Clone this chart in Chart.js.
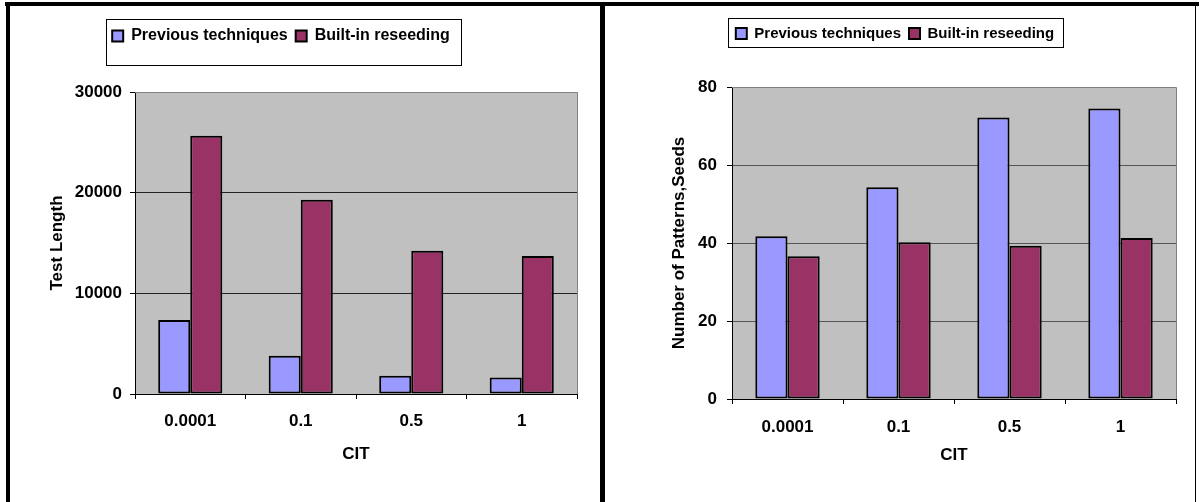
<!DOCTYPE html>
<html>
<head>
<meta charset="utf-8">
<script src="https://cdn.jsdelivr.net/npm/chart.js@4.4.1/dist/chart.umd.min.js"></script>
<style>
  html, body { margin: 0; padding: 0; background: #fff; }
  body { width: 1199px; height: 502px; position: relative; overflow: hidden; }
  .rule { position: absolute; background: #000; }
  canvas { position: absolute; }
</style>
</head>
<body>
<div class="rule" style="left:5px;top:2px;width:1194px;height:4px"></div>
<div class="rule" style="left:6px;top:2px;width:4px;height:500px"></div>
<div class="rule" style="left:600px;top:2px;width:5px;height:500px"></div>
<div class="rule" style="left:1195px;top:2px;width:1px;height:500px"></div>
<canvas id="lengthChart" width="590" height="496" style="left:10px;top:6px"></canvas>
<canvas id="patternChart" width="590" height="496" style="left:605px;top:6px"></canvas>
<script>
const categories = ['0.0001', '0.1', '0.5', '1'];
const seriesNames = ['Previous techniques', 'Built-in reseeding'];

// left chart: test length
const testLengthPrev = [7350, 3800, 1820, 1650];
const testLengthReseed = [25650, 19300, 14230, 13700];
const lengthTicks = [0, 10000, 20000, 30000];

// right chart: number of patterns / seeds
const patternsPrev = [41.7, 54.3, 72.2, 74.5];
const patternsReseed = [36.6, 40.2, 39.3, 41.3];
const patternTicks = [0, 20, 40, 60, 80];

const FONT = "'Liberation Sans', Arial, sans-serif";

// grey plot area with a grey frame on top and right
const plotArea = {
  id: 'plotArea',
  beforeDraw(chart) {
    const { ctx, chartArea: a } = chart;
    ctx.save();
    ctx.fillStyle = '#c0c0c0';
    ctx.fillRect(a.left, a.top, a.right - a.left, a.bottom - a.top);
    ctx.restore();
  },
  beforeDatasetsDraw(chart) {
    const { ctx, chartArea: a } = chart;
    ctx.save();
    ctx.strokeStyle = '#808080';
    ctx.lineWidth = 1;
    ctx.beginPath();
    ctx.moveTo(a.left, Math.round(a.top) + 0.5);
    ctx.lineTo(Math.round(a.right) + 0.5, Math.round(a.top) + 0.5);
    ctx.lineTo(Math.round(a.right) + 0.5, a.bottom);
    ctx.stroke();
    ctx.restore();
  }
};

// moves the legend and draws the boxed frame round it
const legendFrame = {
  id: 'legendFrame',
  afterLayout(chart, args, opts) {
    const lg = chart.legend;
    const w = lg.right - lg.left, h = lg.bottom - lg.top;
    const pad = chart.options.plugins.legend.labels.padding;
    lg.left = opts.centerX - w / 2;
    lg.right = lg.left + w;
    lg.top = opts.itemTop - pad;
    lg.bottom = lg.top + h;
  },
  afterDraw(chart, args, opts) {
    const boxes = chart.legend.legendHitBoxes;
    if (!boxes || !boxes.length) return;
    const left = Math.min(...boxes.map(b => b.left)) - opts.pad[0];
    const top = Math.min(...boxes.map(b => b.top)) - opts.pad[1];
    const right = Math.max(...boxes.map(b => b.left + b.width)) + opts.pad[2];
    const bottom = Math.max(...boxes.map(b => b.top + b.height)) + opts.pad[3];
    const ctx = chart.ctx;
    ctx.save();
    ctx.strokeStyle = '#000';
    ctx.lineWidth = 1;
    ctx.strokeRect(Math.round(left) + 0.5, Math.round(top) + 0.5, Math.round(right - left), Math.round(bottom - top));
    ctx.restore();
  }
};

function buildChart(id, prevValues, reseedValues, yTicks, yTitle, lay) {
  const yMax = yTicks[yTicks.length - 1];
  return new Chart(document.getElementById(id), {
    type: 'bar',
    data: {
      labels: categories,
      datasets: [
        { label: seriesNames[0], data: prevValues, backgroundColor: '#9999ff', borderColor: '#000', borderWidth: 2, borderSkipped: false },
        { label: seriesNames[1], data: reseedValues, backgroundColor: '#993366', borderColor: '#000', borderWidth: 2, borderSkipped: false }
      ]
    },
    options: {
      responsive: false,
      animation: false,
      events: [],
      layout: { padding: lay.padding },
      datasets: { bar: { categoryPercentage: 0.58, barPercentage: 1 } },
      scales: {
        x: {
          grid: { drawOnChartArea: false, color: '#000', tickLength: 5, offset: true },
          border: { color: '#000' },
          ticks: { color: '#000', font: { family: FONT, size: 17, weight: 'bold' }, padding: lay.xTickPad, maxRotation: 0 },
          title: { display: true, text: 'CIT', color: '#000', font: { family: FONT, size: 17, weight: 'bold' }, padding: { top: 0, bottom: lay.xTitlePad } },
          afterFit: s => { s.height = lay.xHeight; }
        },
        y: {
          min: 0,
          max: yMax,
          afterBuildTicks: s => { s.ticks = yTicks.map(v => ({ value: v })); },
          ticks: { color: '#000', font: { family: FONT, size: 17, weight: 'bold' }, padding: lay.yTickPad, callback: v => String(v) },
          grid: {
            color: c => (c.tick && c.tick.value === yMax ? '#808080' : lay.gridColor),
            tickColor: '#000',
            tickLength: 5
          },
          border: { color: '#000' },
          title: { display: true, text: yTitle, color: '#000', font: { family: FONT, size: 17, weight: 'bold' }, padding: { top: lay.yTitlePad, bottom: 0 } },
          afterFit: s => { s.width = lay.yWidth; }
        }
      },
      plugins: {
        legend: {
          labels: { boxWidth: 11, boxHeight: 11, padding: 8, color: '#000', font: { family: FONT, size: lay.legendSize, weight: 'bold' } }
        },
        tooltip: { enabled: false },
        legendFrame: lay.legend
      }
    },
    plugins: [plotArea, legendFrame]
  });
}

buildChart('lengthChart', testLengthPrev, testLengthReseed, lengthTicks, 'Test Length', {
  padding: { top: 52, right: 23, left: 0, bottom: 0 },
  yWidth: 125, xHeight: 108,
  xTickPad: 12, xTitlePad: 37, yTickPad: 8, yTitlePad: 37,
  gridColor: '#222',
  legendSize: 16,
  legend: { centerX: 271, itemTop: 22, pad: [6, 9, 11, 21] }
});

buildChart('patternChart', patternsPrev, patternsReseed, patternTicks, 'Number of Patterns,Seeds', {
  padding: { top: 48, right: 19, left: 0, bottom: 0 },
  yWidth: 127, xHeight: 103,
  xTickPad: 13, xTitlePad: 36, yTickPad: 10, yTitlePad: 64,
  gridColor: '#555',
  legendSize: 15,
  legend: { centerX: 290, itemTop: 20, pad: [8, 8, 9, 6] }
});
</script>
</body>
</html>
